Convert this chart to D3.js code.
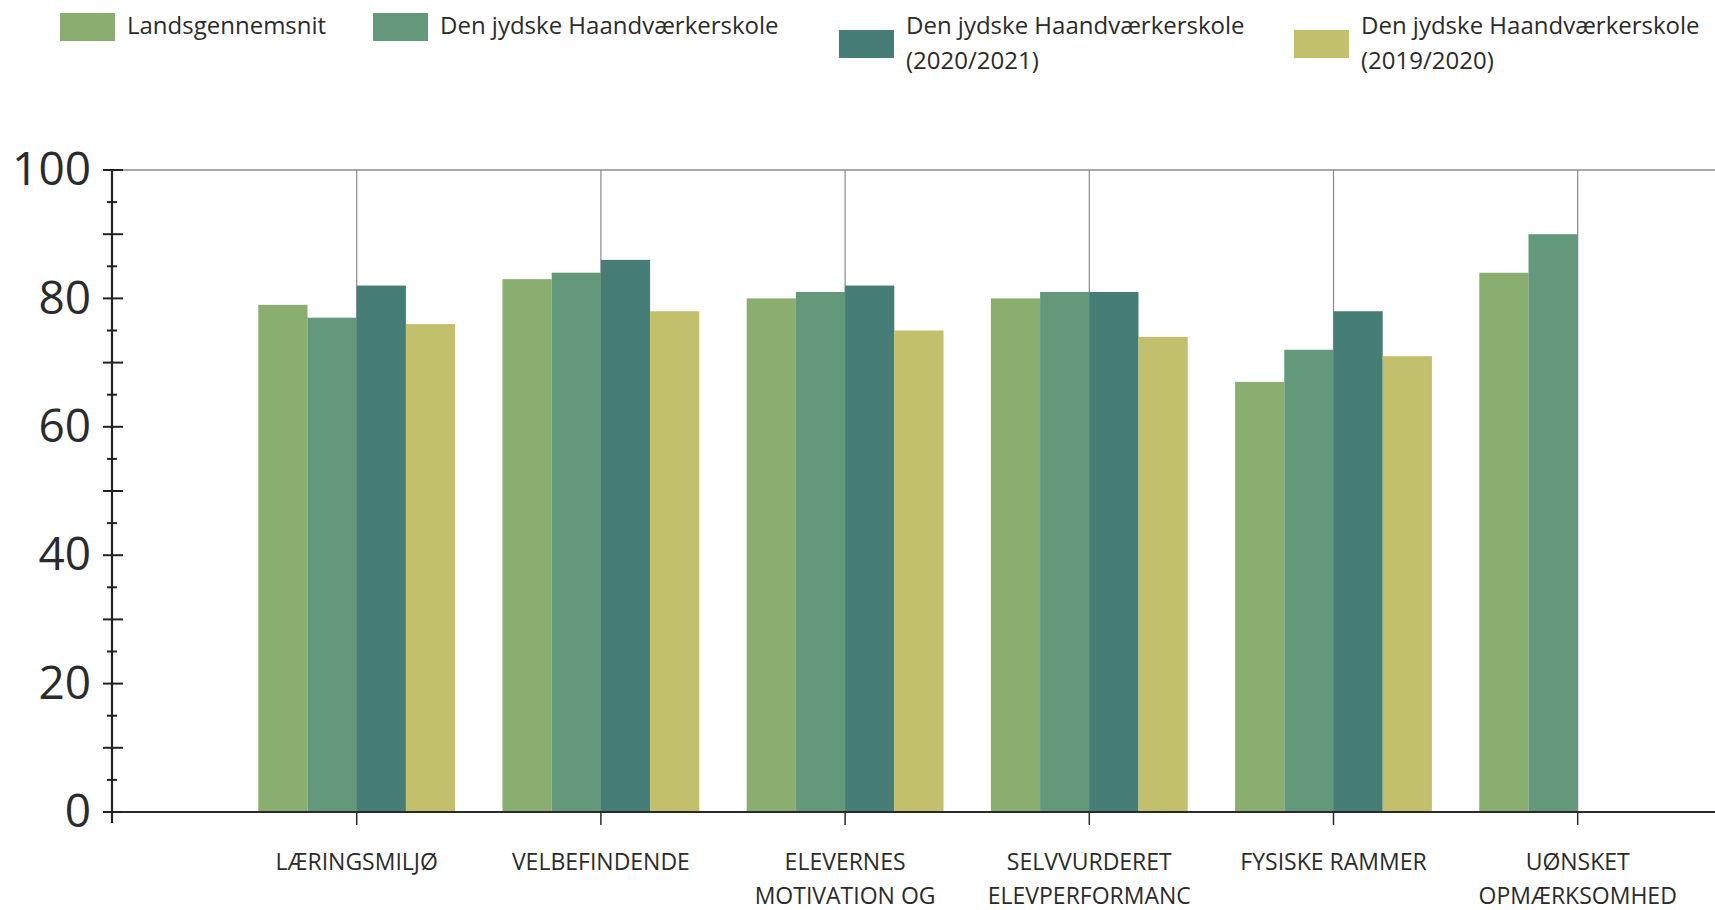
<!DOCTYPE html>
<html>
<head>
<meta charset="utf-8">
<script src="https://cdn.jsdelivr.net/npm/d3@7"></script>
<style>
	body { margin: 0; background: #fff; }
	svg { display: block; font-family: "Open Sans", sans-serif; }
	.label { fill: #2b2b2b; }
</style>
</head>
<body>
<svg id="chart" width="1715" height="910"></svg>
<script>
// chart data
var categories = [
	['LÆRINGSMILJØ'],
	['VELBEFINDENDE'],
	['ELEVERNES', 'MOTIVATION OG'],
	['SELVVURDERET', 'ELEVPERFORMANC'],
	['FYSISKE RAMMER'],
	['UØNSKET', 'OPMÆRKSOMHED']
];
var seriesNames = [
	['Landsgennemsnit'],
	['Den jydske Haandværkerskole'],
	['Den jydske Haandværkerskole', '(2020/2021)'],
	['Den jydske Haandværkerskole', '(2019/2020)']
];
var landsgennemsnit = [79, 83, 80, 80, 67, 84];
var skolen = [77, 84, 81, 81, 72, 90];
var skolen2021 = [82, 86, 82, 81, 78, null];
var skolen2020 = [76, 78, 75, 74, 71, null];
var yTicks = [0, 20, 40, 60, 80, 100];

var colors = ['#8aad70', '#63987a', '#467d76', '#c2c06d'];

var svg = d3.select('#chart');
var chartWidth = 1715;
var plotLeft = 112, plotTop = 170, plotBottom = 812;

var series = [landsgennemsnit, skolen, skolen2021, skolen2020];
var catKeys = categories.map(function (c) { return c.join(' '); });

var y = d3.scaleLinear().domain([0, 100]).range([plotBottom, plotTop]);

var x0 = d3.scaleBand()
		.domain(catKeys)
		.range([234.6, 1699.8])
		.paddingInner(0.194)
		.paddingOuter(0.097);

var x1 = d3.scaleBand()
		.domain(d3.range(series.length))
		.range([0, x0.bandwidth()]);

function center(key) {
	return x0(key) + x0.bandwidth() / 2;
}

/* grid: top line and vertical lines at category centers */
svg.append('line')
		.attr('x1', plotLeft).attr('x2', chartWidth)
		.attr('y1', y(100)).attr('y2', y(100))
		.attr('stroke', '#8a8a8a').attr('stroke-width', 1.5);

svg.selectAll('line.vgrid')
		.data(catKeys)
		.enter().append('line')
		.attr('class', 'vgrid')
		.attr('x1', center).attr('x2', center)
		.attr('y1', y(100)).attr('y2', y(0))
		.attr('stroke', '#8a8a8a').attr('stroke-width', 1.2);

/* bars */
var groups = svg.selectAll('g.group')
		.data(catKeys)
		.enter().append('g')
		.attr('class', 'group')
		.attr('transform', function (d) { return 'translate(' + x0(d) + ',0)'; });

groups.selectAll('rect')
		.data(function (d, i) {
			return series.map(function (s, j) { return {series: j, value: s[i]}; })
					.filter(function (p) { return p.value !== null; });
		})
		.enter().append('rect')
		.attr('x', function (d) { return x1(d.series); })
		.attr('width', x1.bandwidth())
		.attr('y', function (d) { return y(d.value); })
		.attr('height', function (d) { return y(0) - y(d.value); })
		.attr('fill', function (d) { return colors[d.series]; });

/* x axis line + ticks under category centers */
svg.append('line')
		.attr('x1', plotLeft - 9).attr('x2', chartWidth)
		.attr('y1', y(0)).attr('y2', y(0))
		.attr('stroke', '#2a2a2a').attr('stroke-width', 2.2);

svg.selectAll('line.xtick')
		.data(catKeys)
		.enter().append('line')
		.attr('class', 'xtick')
		.attr('x1', center).attr('x2', center)
		.attr('y1', y(0)).attr('y2', y(0) + 13)
		.attr('stroke', '#2a2a2a').attr('stroke-width', 1.5);

var xLabels = svg.selectAll('text.xlabel')
		.data(categories)
		.enter().append('text')
		.attr('class', 'label xlabel')
		.attr('text-anchor', 'middle')
		.attr('font-size', 23);

xLabels.selectAll('tspan')
		.data(function (d, i) { return d.map(function (line) { return {line: line, key: catKeys[i]}; }); })
		.enter().append('tspan')
		.attr('x', function (d) { return center(d.key); })
		.attr('y', function (d, i) { return 870 + i * 34; })
		.text(function (d) { return d.line; });

/* y axis: labels via d3 axis, ticks drawn on both sides of the line */
var yAxis = svg.append('g')
		.attr('transform', 'translate(' + plotLeft + ',0)')
		.call(d3.axisLeft(y).tickValues(yTicks).tickSize(0).tickPadding(21));

yAxis.select('.domain').remove();
yAxis.selectAll('text')
		.attr('class', 'label')
		.attr('font-size', 46)
		.attr('font-family', '"Open Sans", sans-serif')
		.attr('fill', '#222');

svg.append('line')
		.attr('x1', plotLeft).attr('x2', plotLeft)
		.attr('y1', y(100)).attr('y2', y(0) + 11)
		.attr('stroke', '#222').attr('stroke-width', 2.2);

svg.selectAll('line.ytick')
		.data(d3.range(0, 101, 5))
		.enter().append('line')
		.attr('class', 'ytick')
		.attr('x1', function (d) { return d % 10 === 0 ? plotLeft - 9 : plotLeft - 5; })
		.attr('x2', function (d) { return d % 10 === 0 ? plotLeft + 11 : plotLeft + 5; })
		.attr('y1', y).attr('y2', y)
		.attr('stroke', '#222').attr('stroke-width', 2);

/* legend */
var legendX = [60, 373, 839, 1294];

var legend = svg.selectAll('g.legend-item')
		.data(seriesNames)
		.enter().append('g')
		.attr('class', 'legend-item')
		.attr('transform', function (d, i) { return 'translate(' + legendX[i] + ',0)'; });

legend.append('rect')
		.attr('y', function (d) { return d.length > 1 ? 30 : 13; })
		.attr('width', 55)
		.attr('height', 28)
		.attr('fill', function (d, i) { return colors[i]; });

legend.append('text')
		.attr('class', 'label')
		.attr('font-size', 24)
		.selectAll('tspan')
		.data(function (d) { return d; })
		.enter().append('tspan')
		.attr('x', 67)
		.attr('y', function (d, i) { return 34 + i * 35; })
		.text(function (d) { return d; });
</script>
</body>
</html>
